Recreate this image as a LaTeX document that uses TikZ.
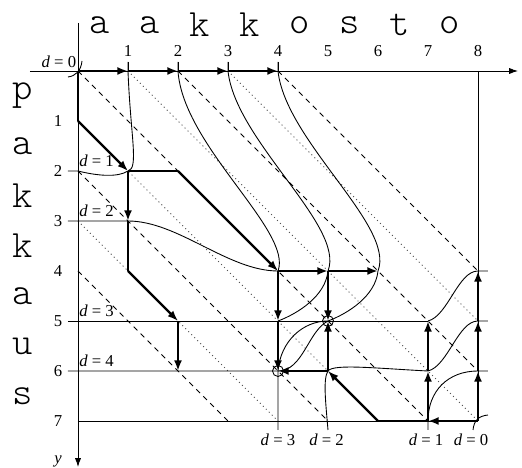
\documentclass[tikz,border=0pt]{standalone}
\usepackage{fontspec}
\setmainfont{Liberation Serif}
\newfontfamily\wordfont{Latin Modern Mono Light}
\usetikzlibrary{arrows.meta,calc}
\definecolor{ink}{HTML}{000000}
\definecolor{dotgray}{HTML}{555555}

\tikzset{
  thinline/.style={draw=ink,line width=0.5pt},
  axisline/.style={draw=ink,line width=0.5pt,-{Latex[length=5pt,width=3.5pt]}},
  pathline/.style={draw=ink,line width=1.3pt},
  patharrow/.style={draw=ink,line width=1.3pt,-{Latex[length=6pt,width=4.5pt]}},
  diagdash/.style={draw=ink,line width=0.5pt,dash pattern=on 3pt off 2.6pt},
  diagdot/.style={draw=dotgray,line width=0.5pt,dash pattern=on 0.6pt off 1.8pt},
  levelcurve/.style={draw=ink,line width=0.5pt},
  numlabel/.style={font=\fontsize{9.5}{11}\selectfont,inner sep=0pt},
  dlabel/.style={font=\fontsize{9.5}{11}\selectfont,inner sep=0pt},
  letter/.style={font=\wordfont\fontsize{22}{22}\selectfont,inner sep=0pt}
}

\begin{document}
\begin{tikzpicture}[x=1cm,y=1cm]
\useasboundingbox (-1.56,1.42) rectangle (8.88,-7.94);

% grid points
\foreach \i in {0,...,8}
  \foreach \j in {0,...,7}
    \coordinate (g\i\j) at (\i,-\j);

% tick ends
\foreach \i in {1,...,4} \coordinate (tt\i) at (\i,0.18);
\foreach \j in {2,3,5,6} \coordinate (lt\j) at (-0.2,-\j);
\foreach \j in {4,5,6} \coordinate (rt\j) at (8.2,-\j);
\foreach \i in {4,5,7} \coordinate (bt\i) at (\i,-7.18);

% diagonals
\foreach \a/\b in {g00/g77,g20/g86,g40/g84,g02/g57,g04/g37}
  \draw[diagdash] (\a) -- (\b);
\foreach \a/\b in {g10/g87,g30/g85,g01/g67,g03/g47}
  \draw[diagdot] (\a) -- (\b);

% axes
\coordinate (xs) at (-0.96,0);
\coordinate (xe) at (8.8,0);
\coordinate (ys) at (0,0.96);
\coordinate (ye) at (0,-7.92);
\draw[axisline] (xs) -- (xe);
\draw[axisline] (ys) -- (ye);
\node[font=\itshape\fontsize{9.5}{11}\selectfont,anchor=base west] (xl) at (8.83,0.2) {x};
\node[font=\itshape\fontsize{9.5}{11}\selectfont,anchor=base] (yl) at (-0.4,-7.86) {y};

% frame of the grid
\draw[thinline] (g80) -- (g87);
\draw[thinline] (g07) -- (g87);
\draw[thinline] (lt5) -- (g75);

% ticks
\foreach \i in {1,...,4} \draw[thinline] (g\i0) -- (tt\i);
\foreach \i in {1,...,8} \node[numlabel] (nx\i) at (\i,0.4) {\i};
\foreach \j in {1,...,7} \node[numlabel] (ny\j) at (-0.4,-\j) {\j};

% words
\foreach \c [count=\i] in {a,a,k,k,o,s,t,o}
  \node[letter] (w\i) at (\i-0.56,0.92) {\c};
\foreach \c [count=\j] in {p,a,k,k,a,u,s}
  \node[letter] (v\j) at (-1.1,-\j+0.5) {\c};

% forward levels
\draw[levelcurve] (0.08,0.2) .. controls (0.06,0) and (-0.05,-0.1) .. (-0.2,-0.12);
\draw[levelcurve] (lt2) -- (g02) .. controls (0.4,-2.1) and (0.8,-2.13) .. (g12)
  .. controls (1.22,-1.95) and (1.05,-1.3) .. (g10) -- (tt1);
\draw[levelcurve] (lt3) -- (g13) .. controls (2,-3) and (3,-4) .. (g44)
  .. controls (4.3,-3.2) and (2.1,-1.5) .. (g20) -- (tt2);
\draw[levelcurve] (g45) .. controls (4.4,-4.85) and (4.95,-4.5) .. (g54)
  .. controls (5.35,-3.1) and (3.15,-1.4) .. (g30) -- (tt3);
\draw[levelcurve] (lt6) -- (g46) .. controls (4.05,-5.4) and (4.5,-5) .. (g55)
  .. controls (5.4,-4.85) and (5.95,-4.5) .. (g64)
  .. controls (6.35,-3.1) and (4.15,-1.4) .. (g40) -- (tt4);

% backward levels
\draw[levelcurve] (8.2,-6.88) .. controls (8.0,-6.9) and (7.92,-7.0) .. (7.9,-7.18);
\draw[levelcurve] (rt6) -- (g86) .. controls (7.4,-6) and (7,-6.4) .. (g77) -- (bt7);
\draw[levelcurve] (rt5) -- (g85) .. controls (7.6,-5) and (7.4,-5.9) .. (g76)
  .. controls (6,-5.95) and (5.1,-5.85) .. (g56)
  .. controls (4.9,-6.15) and (4.95,-6.6) .. (bt5);
\draw[levelcurve] (rt4) -- (g84) .. controls (7.6,-4) and (7.4,-4.9) .. (g75);
\draw[levelcurve] (g55) .. controls (4.6,-5.2) and (4.5,-6) .. (g46) -- (bt4);

% paths
\foreach \a/\b in {g00/g01,g12/g22,g13/g14,g77/g67}
  \draw[pathline] (\a) -- (\b);
\foreach \a/\b in {g00/g10,g10/g20,g20/g30,g30/g40,g01/g12,g12/g13,g22/g44,
  g14/g25,g25/g26,g44/g54,g54/g64,g44/g45,g45/g46,g54/g55,
  g56/g55,g56/g46,g67/g56,g87/g77,g77/g76,g76/g75,g87/g86,g86/g85,g85/g84}
  \draw[patharrow] (\a) -- (\b);

% meeting points
\draw[thinline] (g55) circle (0.11);
\draw[thinline] (g46) circle (0.11);

% level labels
\node[dlabel,anchor=base east] (f0) at (-0.03,0.07) {\textit{d} = 0};
\node[dlabel,anchor=base west] (f1) at (0.02,-1.92) {\textit{d} = 1};
\node[dlabel,anchor=base west] (f2) at (0.02,-2.92) {\textit{d} = 2};
\node[dlabel,anchor=base west] (f3) at (0.02,-4.92) {\textit{d} = 3};
\node[dlabel,anchor=base west] (f4) at (0.02,-5.92) {\textit{d} = 4};
\node[dlabel,anchor=base] (b3) at (4,-7.5) {\textit{d} = 3};
\node[dlabel,anchor=base] (b2) at (4.97,-7.5) {\textit{d} = 2};
\node[dlabel,anchor=base] (b1) at (6.96,-7.5) {\textit{d} = 1};
\node[dlabel,anchor=base] (b0) at (7.86,-7.5) {\textit{d} = 0};
\end{tikzpicture}
\end{document}
